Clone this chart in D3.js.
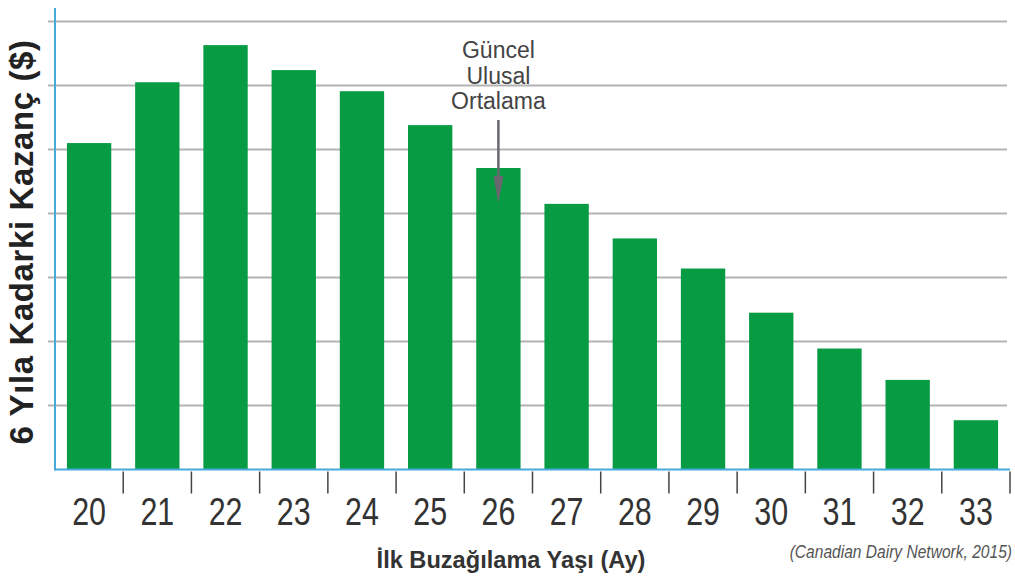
<!DOCTYPE html>
<html>
<head>
<meta charset="utf-8">
<script src="https://cdn.jsdelivr.net/npm/d3@7"></script>
<style>
  body { margin: 0; background: #fff; }
  svg { display: block; }
  .grid line { stroke: #b3b3b3; stroke-width: 2; }
  .bar { fill: #079b44; }
  .frame { stroke: #45a9dc; stroke-width: 2; }
  .cat { font-family: "Liberation Sans", Arial, sans-serif; font-size: 38px; fill: #333; }
  .title { font-family: "Liberation Sans", Arial, sans-serif; font-weight: bold; fill: #222; }
  .note { font-family: "Liberation Sans", Arial, sans-serif; font-size: 23px; fill: #444; }
  .source { font-family: "Liberation Sans", Arial, sans-serif; font-style: italic; font-size: 19px; fill: #555; }
</style>
</head>
<body>
<svg id="chart" width="1015" height="576"></svg>
<script>
// age at first calving (months) and relative 6-year earnings (gridline units, no scale printed)
const ages = ["20", "21", "22", "23", "24", "25", "26", "27", "28", "29", "30", "31", "32", "33"];
const earnings = [5.10, 6.05, 6.63, 6.24, 5.91, 5.38, 4.71, 4.15, 3.61, 3.14, 2.45, 1.89, 1.40, 0.77];
const gridValues = [1, 2, 3, 4, 5, 6, 7];
const noteLines = ["Güncel", "Ulusal", "Ortalama"];
const noteAge = "26";

const svg = d3.select("#chart");
const plotLeft = 55, plotRight = 1010, plotTop = 8, plotBottom = 469.5;
const narrow = 0.8; // the original labels use a condensed face

const x = d3.scaleBand()
  .domain(ages)
  .range([plotLeft, plotRight])
  .paddingInner(0.35)
  .paddingOuter(0.175);

const y = d3.scaleLinear()
  .domain([0, 7.21])
  .range([plotBottom, plotTop]);

//gridlines
svg.append("g").attr("class", "grid")
  .selectAll("line")
  .data(gridValues)
  .enter().append("line")
  .attr("x1", plotLeft - 7)
  .attr("x2", 1007)
  .attr("y1", d => y(d))
  .attr("y2", d => y(d));

//bars
svg.selectAll(".bar")
  .data(earnings)
  .enter().append("rect")
  .attr("class", "bar")
  .attr("x", (d, i) => x(ages[i]))
  .attr("width", x.bandwidth())
  .attr("y", d => y(d))
  .attr("height", d => y(0) - y(d));

//axis frame
svg.append("line").attr("class", "frame")
  .attr("x1", plotLeft).attr("x2", plotLeft)
  .attr("y1", plotTop).attr("y2", plotBottom + 1);
svg.append("line").attr("class", "frame")
  .attr("x1", plotLeft).attr("x2", plotRight)
  .attr("y1", plotBottom).attr("y2", plotBottom);

//ticks between categories
const step = x.step();
svg.selectAll(".tick")
  .data(ages)
  .enter().append("line")
  .attr("class", "tick")
  .attr("x1", d => x(d) + x.bandwidth() + step * x.paddingInner() / 2)
  .attr("x2", d => x(d) + x.bandwidth() + step * x.paddingInner() / 2)
  .attr("y1", plotBottom + 2)
  .attr("y2", plotBottom + 24)
  .style("stroke", "#444")
  .style("stroke-width", 1.5);

svg.selectAll(".cat")
  .data(ages)
  .enter().append("text")
  .attr("class", "cat")
  .attr("transform", d => `translate(${x(d) + x.bandwidth() / 2},525) scale(${narrow},1)`)
  .attr("text-anchor", "middle")
  .text(d => d);

//axis titles
svg.append("text")
  .attr("class", "title")
  .attr("transform", "translate(33,242) rotate(-90)")
  .attr("text-anchor", "middle")
  .style("font-size", "33px")
  .style("letter-spacing", "0.6px")
  .text("6 Yıla Kadarki Kazanç ($)");

svg.append("text")
  .attr("class", "title")
  .attr("x", 511)
  .attr("y", 568)
  .attr("text-anchor", "middle")
  .style("font-size", "23.6px")
  .style("fill", "#333")
  .text("İlk Buzağılama Yaşı (Ay)");

svg.append("text")
  .attr("class", "source")
  .attr("transform", `translate(1012,558) scale(${narrow + 0.02},1)`)
  .attr("text-anchor", "end")
  .text("(Canadian Dairy Network, 2015)");

//annotation + arrow
const nx = x(noteAge) + x.bandwidth() / 2;
svg.selectAll(".note")
  .data(noteLines)
  .enter().append("text")
  .attr("class", "note")
  .attr("x", nx)
  .attr("y", (d, i) => 58 + i * 25.5)
  .attr("text-anchor", "middle")
  .text(d => d);

svg.append("line")
  .attr("x1", nx).attr("x2", nx)
  .attr("y1", 120).attr("y2", 185)
  .style("stroke", "#6a6670")
  .style("stroke-width", 2.5);
svg.append("path")
  .attr("d", `M${nx - 5},176 L${nx + 5},176 L${nx},203 Z`)
  .style("fill", "#6a6670");
</script>
</body>
</html>
